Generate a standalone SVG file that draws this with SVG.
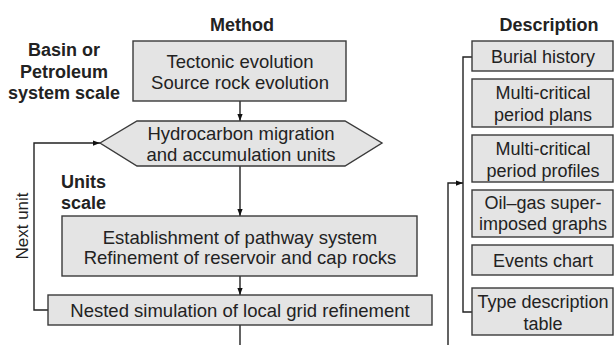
<svg xmlns="http://www.w3.org/2000/svg" width="616" height="345" viewBox="0 0 616 345">
<style>
.box{fill:#e4e4e4;stroke:#3a3a3a;stroke-width:1.4}
.t{font-family:"Liberation Sans",Arial,sans-serif;font-size:18.5px;fill:#222;text-anchor:middle}
.d{font-family:"Liberation Sans",Arial,sans-serif;font-size:18px;fill:#222;text-anchor:middle}
.b{font-family:"Liberation Sans",Arial,sans-serif;font-size:18px;font-weight:bold;fill:#222;text-anchor:middle}
.c{fill:none;stroke:#222;stroke-width:1.4}
</style>
<defs>
<marker id="ah" viewBox="0 0 8 8" refX="8" refY="4" markerWidth="7" markerHeight="7" markerUnits="userSpaceOnUse" orient="auto">
<path d="M0,1 L8,4 L0,7 Z" fill="#111"/>
</marker>
</defs>
<rect width="616" height="345" fill="#fff"/>
<text class="b" x="242" y="31">Method</text>
<text class="b" x="549" y="31">Description</text>
<g id="lbl-basin">
<text class="b" x="64" y="56">Basin or</text>
<text class="b" x="64" y="78">Petroleum</text>
<text class="b" x="64" y="99">system scale</text>
</g>
<g id="lbl-units">
<text class="b" x="61" y="188" style="text-anchor:start">Units</text>
<text class="b" x="61" y="209" style="text-anchor:start">scale</text>
</g>
<g id="connectors">
<path class="c" d="M240,101 V121" marker-end="url(#ah)"/>
<path class="c" d="M240,166 V216" marker-end="url(#ah)"/>
<path class="c" d="M240,276 V295" marker-end="url(#ah)"/>
<path class="c" d="M240,325 V345"/>
<path class="c" d="M48,310 H34 V143 H100" marker-end="url(#ah)"/>
<path class="c" d="M448,345 V183 H463" marker-end="url(#ah)"/>
<path class="c" d="M472,57 H463 V312 H472"/>
<text class="d" style="font-size:17px" transform="translate(28,226) rotate(-90)">Next unit</text>
</g>
<g id="n-tectonic">
<rect class="box" x="133" y="41" width="213" height="60"/>
<text class="t" x="240" y="67.5">Tectonic evolution</text>
<text class="t" x="240" y="88.5">Source rock evolution</text>
</g>
<g id="n-hydrocarbon">
<polygon class="box" points="100,143 137,121 345,121 382,143 345,166 137,166"/>
<text class="t" x="241" y="140">Hydrocarbon migration</text>
<text class="t" x="241" y="161">and accumulation units</text>
</g>
<g id="n-pathway">
<rect class="box" x="62" y="216" width="355" height="60"/>
<text class="t" x="240" y="244">Establishment of pathway system</text>
<text class="t" x="240" y="264">Refinement of reservoir and cap rocks</text>
</g>
<g id="n-nested">
<rect class="box" x="48" y="295" width="384" height="30"/>
<text class="t" x="240" y="317">Nested simulation of local grid refinement</text>
</g>
<g id="d-burial">
<rect class="box" x="472" y="41" width="141" height="30"/>
<text class="d" x="543" y="63">Burial history</text>
</g>
<g id="d-plans">
<rect class="box" x="472" y="79" width="141" height="48"/>
<text class="d" x="543" y="99">Multi-critical</text>
<text class="d" x="543" y="121">period plans</text>
</g>
<g id="d-profiles">
<rect class="box" x="472" y="135" width="141" height="47"/>
<text class="d" x="543" y="155">Multi-critical</text>
<text class="d" x="543" y="177">period profiles</text>
</g>
<g id="d-oilgas">
<rect class="box" x="472" y="190" width="141" height="47"/>
<text class="d" x="543" y="209">Oil–gas super-</text>
<text class="d" x="543" y="230">imposed graphs</text>
</g>
<g id="d-events">
<rect class="box" x="472" y="245" width="141" height="30"/>
<text class="d" x="543" y="267">Events chart</text>
</g>
<g id="d-type">
<rect class="box" x="472" y="288" width="141" height="47"/>
<text class="d" x="543" y="308">Type description</text>
<text class="d" x="543" y="330">table</text>
</g>
</svg>
